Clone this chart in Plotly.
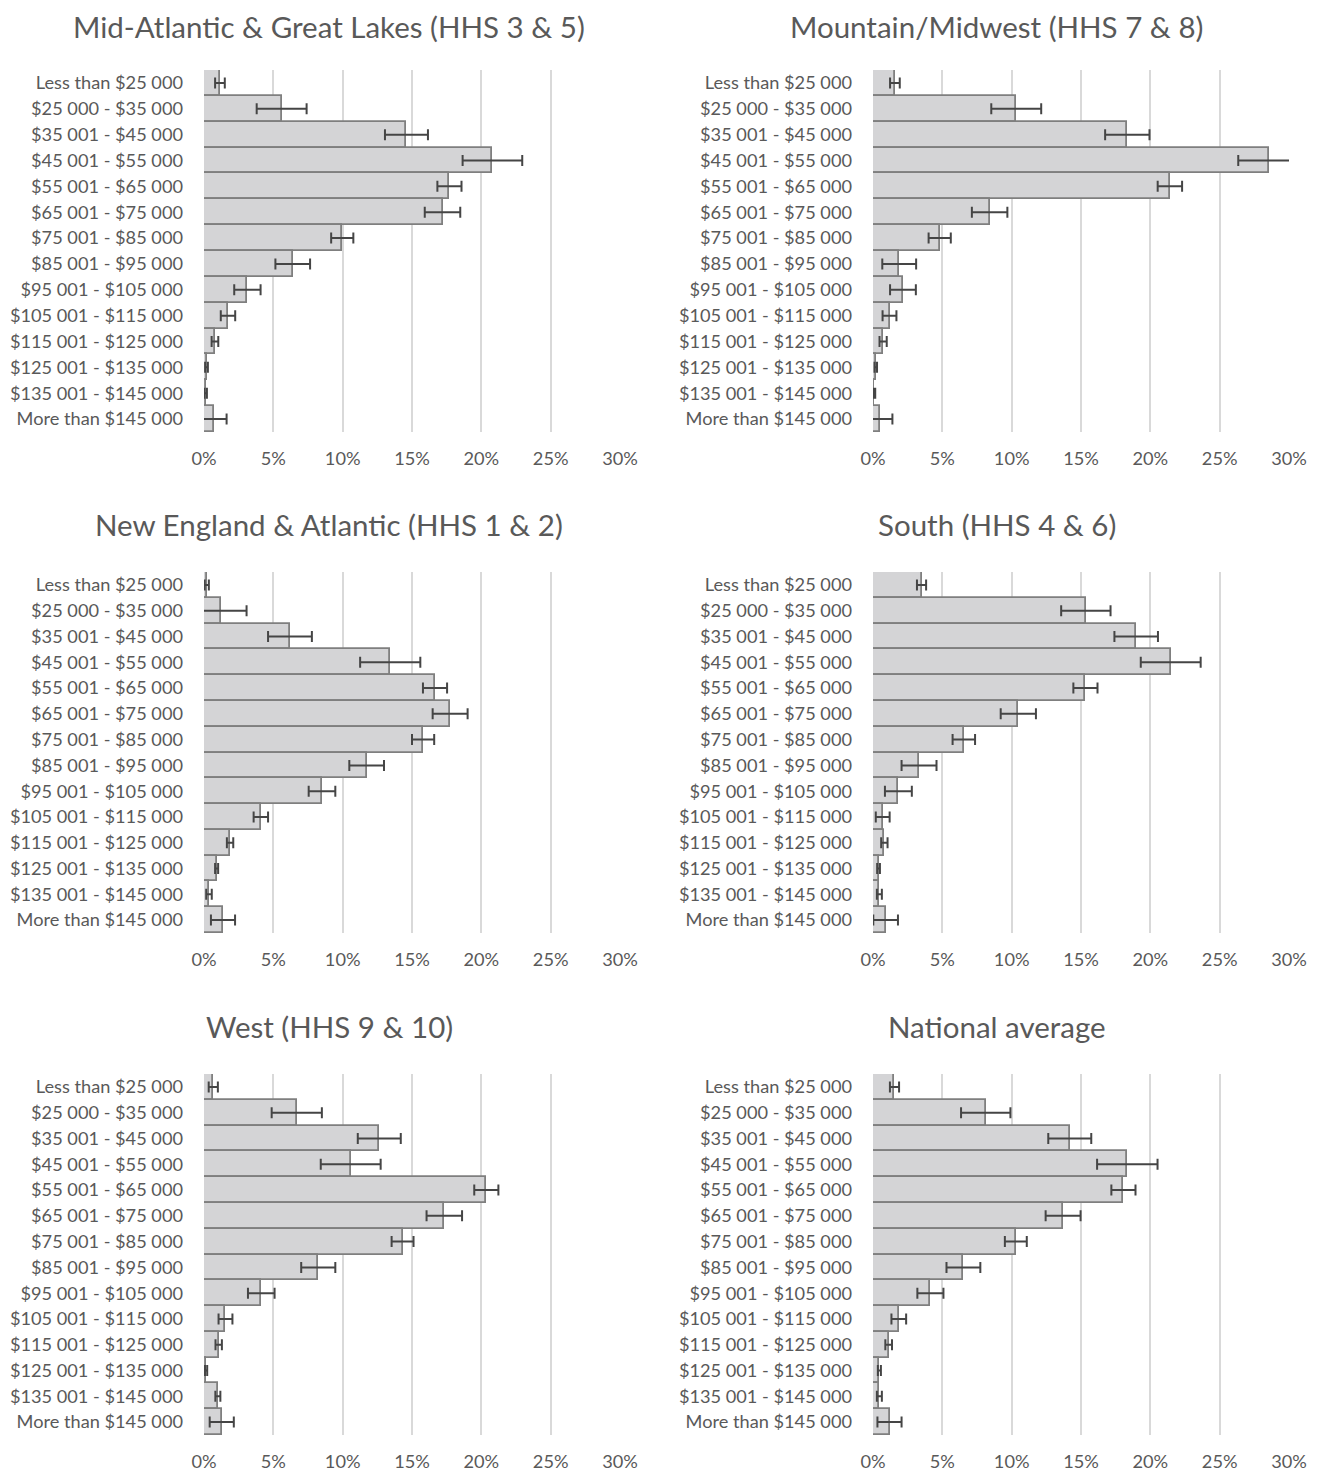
import plotly.graph_objects as go

categories = [
    "Less than $25 000", "$25 000 - $35 000", "$35 001 - $45 000", "$45 001 - $55 000",
    "$55 001 - $65 000", "$65 001 - $75 000", "$75 001 - $85 000", "$85 001 - $95 000",
    "$95 001 - $105 000", "$105 001 - $115 000", "$115 001 - $125 000",
    "$125 001 - $135 000", "$135 001 - $145 000", "More than $145 000",
]

titles = [
    "Mid-Atlantic & Great Lakes (HHS 3 & 5)",
    "Mountain/Midwest (HHS 7 & 8)",
    "New England & Atlantic (HHS 1 & 2)",
    "South (HHS 4 & 6)",
    "West (HHS 9 & 10)",
    "National average",
]

mid_atlantic = [1.15, 5.6, 14.6, 20.8, 17.7, 17.2, 9.97, 6.4, 3.13, 1.73, 0.79, 0.18, 0.12, 0.73]
mid_atlantic_err = [0.35, 1.8, 1.55, 2.15, 0.87, 1.28, 0.8, 1.25, 0.95, 0.52, 0.24, 0.1, 0.09, 0.9]

mountain = [1.58, 10.33, 18.34, 28.54, 21.41, 8.41, 4.81, 1.89, 2.16, 1.19, 0.73, 0.2, 0.1, 0.52]
mountain_err = [0.35, 1.8, 1.6, 2.2, 0.88, 1.28, 0.8, 1.22, 0.93, 0.5, 0.26, 0.09, 0.06, 0.88]

new_england = [0.2, 1.25, 6.2, 13.43, 16.66, 17.75, 15.8, 11.73, 8.51, 4.1, 1.88, 0.91, 0.36, 1.37]
new_england_err = [0.15, 1.82, 1.58, 2.17, 0.87, 1.26, 0.8, 1.25, 0.96, 0.52, 0.23, 0.11, 0.2, 0.87]

south = [3.5, 15.35, 18.98, 21.47, 15.32, 10.48, 6.55, 3.32, 1.83, 0.7, 0.82, 0.4, 0.46, 0.91]
south_err = [0.33, 1.78, 1.57, 2.16, 0.87, 1.27, 0.81, 1.26, 0.97, 0.5, 0.23, 0.1, 0.18, 0.89]

west = [0.67, 6.69, 12.64, 10.58, 20.36, 17.33, 14.32, 8.24, 4.13, 1.55, 1.06, 0.15, 1.0, 1.28]
west_err = [0.33, 1.81, 1.55, 2.16, 0.87, 1.28, 0.79, 1.23, 0.96, 0.5, 0.23, 0.08, 0.18, 0.87]

national = [1.55, 8.13, 14.19, 18.34, 18.06, 13.71, 10.3, 6.52, 4.14, 1.86, 1.13, 0.46, 0.46, 1.19]
national_err = [0.33, 1.78, 1.55, 2.18, 0.87, 1.26, 0.79, 1.22, 0.94, 0.53, 0.24, 0.11, 0.18, 0.87]

x_ticks = [0, 5, 10, 15, 20, 25, 30]

series = [
    (mid_atlantic, mid_atlantic_err),
    (mountain, mountain_err),
    (new_england, new_england_err),
    (south, south_err),
    (west, west_err),
    (national, national_err),
]

# page has an 8px body margin, so the figure starts at (8, 8)
OFF = 8
W, H = 1323 - OFF, 1474 - OFF
FONT = "Lato"
TXT = "#595959"
TICK_SIZE = 18.2
TITLE_SIZE = 29.5

col_px = [(204 - OFF, 620 - OFF), (873 - OFF, 1289 - OFF)]
row_px = [(70 - OFF, 432 - OFF), (572 - OFF, 933 - OFF), (1074 - OFF, 1435 - OFF)]
title_y_px = [22 - OFF, 524 - OFF, 1026 - OFF]
title_x_px = [329 - OFF, 997 - OFF]

fig = go.Figure()
layout = dict(
    width=W, height=H,
    margin=dict(l=0, r=0, t=0, b=0, autoexpand=False),
    paper_bgcolor="white", plot_bgcolor="white",
    showlegend=False, bargap=0,
    font=dict(family=FONT, color=TXT, size=TICK_SIZE),
)
annotations = []

for i, (vals, errs) in enumerate(series):
    r, c = divmod(i, 2)
    n = i + 1
    xa = "x" if n == 1 else f"x{n}"
    ya = "y" if n == 1 else f"y{n}"
    fig.add_trace(go.Bar(
        x=vals, y=categories, orientation="h",
        xaxis=xa, yaxis=ya,
        marker=dict(color="#d4d4d6", line=dict(color="#7f7f7f", width=1.8)),
        error_x=dict(type="data", array=errs, symmetric=True,
                     color="#454545", thickness=2, width=5.5),
        cliponaxis=True,
    ))
    x0, x1 = col_px[c]
    y0, y1 = row_px[r]
    layout["xaxis" if n == 1 else f"xaxis{n}"] = dict(
        domain=[x0 / W, x1 / W], anchor=ya,
        range=[0, 30], tickvals=x_ticks, ticktext=[f"{v}%" for v in x_ticks],
        showgrid=True, gridcolor="#d9d9d9", gridwidth=1.8,
        zeroline=False, showline=False, ticks="",
        tickfont=dict(family=FONT, color=TXT, size=TICK_SIZE),
        ticklabelstandoff=14, fixedrange=True, automargin=False,
    )
    layout["yaxis" if n == 1 else f"yaxis{n}"] = dict(
        domain=[1 - y1 / H, 1 - y0 / H], anchor=xa,
        autorange="reversed", categoryorder="array", categoryarray=categories,
        showgrid=False, zeroline=False, showline=False, ticks="",
        tickfont=dict(family=FONT, color=TXT, size=TICK_SIZE),
        ticklabelstandoff=20, fixedrange=True, automargin=False,
    )
    if r == 0:
        ty, yanchor = 1.0, "top"
    else:
        ty, yanchor = 1 - title_y_px[r] / H, "middle"
    annotations.append(dict(
        text=titles[i], x=title_x_px[c] / W, y=ty,
        xref="paper", yref="paper", xanchor="center", yanchor=yanchor,
        borderpad=0,
        showarrow=False, font=dict(family=FONT, size=TITLE_SIZE, color=TXT),
    ))

layout["annotations"] = annotations
fig.update_layout(**layout)
fig.write_html("out.html")
